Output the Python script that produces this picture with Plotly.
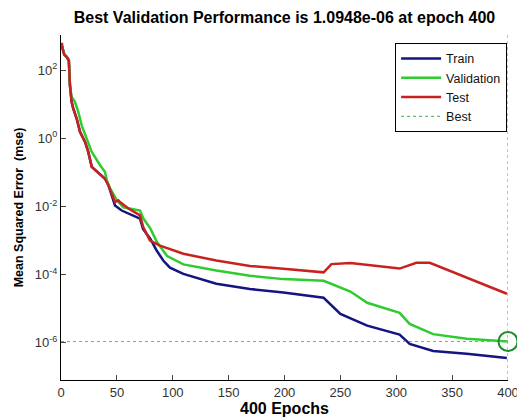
import plotly.graph_objects as go

# ---- data ----
train_epochs = [0, 1, 3, 5, 7, 8, 9.5, 11, 14, 17, 21.5, 24.4, 27.5, 33, 39.4, 42.4, 48.3, 54.3,
                65, 70.7, 73.4, 80, 85.6, 91.5, 97.5, 109.5, 139, 169, 199, 235, 250, 274, 303,
                312, 333, 363, 399]
train_mse = [437, 501, 282, 245, 195, 36.3, 11.7, 7.4, 3.8, 1.55, 0.78, 0.4, 0.145, 0.1, 0.065,
             0.042, 0.0107, 0.0076, 0.0055, 0.0044, 0.0022, 0.00112, 5.1e-4, 2.6e-4, 1.6e-4,
             1.05e-4, 5.4e-5, 3.8e-5, 3.0e-5, 2.1e-5, 7.1e-6, 3.2e-6, 1.74e-6, 9.3e-7, 5.8e-7,
             4.8e-7, 3.6e-7]

val_epochs = [0, 1, 3, 5, 7, 8, 9.5, 12.5, 15.5, 18.5, 23, 27.5, 35, 39.4, 41, 44, 50, 55.7,
              70.7, 73.6, 80, 86, 95, 109.5, 139, 169, 199, 235, 259, 274, 303, 312, 333, 363, 400]
val_mse = [437, 501, 282, 245, 195, 36.3, 16.2, 11.7, 5.9, 2.4, 0.98, 0.4, 0.162, 0.102, 0.0575,
           0.0339, 0.0151, 0.0095, 0.0076, 0.0045, 0.00224, 8.9e-4, 3.5e-4, 2.0e-4, 1.32e-4,
           9.3e-5, 7.4e-5, 6.6e-5, 3.2e-5, 1.5e-5, 7.6e-6, 3.6e-6, 1.8e-6, 1.32e-6, 1.0948e-6]

test_epochs = [0, 0.8, 1.5, 3, 5, 7, 8, 9.5, 11, 14, 17, 21.5, 24.4, 27.5, 33, 39.4, 42.4, 48.3,
               51.3, 52.8, 60, 70.7, 73.6, 79.6, 88.6, 109.5, 139, 169, 199, 235, 242, 259, 303,
               318, 330, 399]
test_mse = [437, 630, 400, 282, 245, 195, 36.3, 11.7, 7.4, 3.8, 1.55, 0.78, 0.4, 0.145, 0.1,
            0.065, 0.042, 0.0135, 0.0151, 0.0135, 0.0089, 0.0055, 0.0025, 0.001, 7.1e-4, 4.1e-4,
            2.6e-4, 1.8e-4, 1.48e-4, 1.17e-4, 2.04e-4, 2.2e-4, 1.51e-4, 2.24e-4, 2.24e-4, 2.75e-5]

best_epoch = 400
best_perf = 1.0948e-6

x_ticks = [0, 50, 100, 150, 200, 250, 300, 350, 400]
y_tick_vals = [1e2, 1e0, 1e-2, 1e-4, 1e-6]
y_tick_text = ["10<sup>2</sup>", "10<sup>0</sup>", "10<sup>-2</sup>", "10<sup>-4</sup>", "10<sup>-6</sup>"]

FONT = "Liberation Sans, Arial, sans-serif"

fig = go.Figure()
fig.add_trace(go.Scatter(x=train_epochs, y=train_mse, mode="lines", name="Train",
                         line=dict(color="#141482", width=2.5)))
fig.add_trace(go.Scatter(x=val_epochs, y=val_mse, mode="lines", name="Validation",
                         line=dict(color="#2ecc2e", width=2.5)))
fig.add_trace(go.Scatter(x=test_epochs, y=test_mse, mode="lines", name="Test",
                         line=dict(color="#c8221e", width=2.5)))
fig.add_trace(go.Scatter(x=[0, best_epoch], y=[best_perf, best_perf], mode="lines", name="Best",
                         line=dict(color="#66b87a", width=1.2, dash="dot")))
fig.add_trace(go.Scatter(x=[best_epoch], y=[best_perf], mode="markers", showlegend=False,
                         cliponaxis=False,
                         marker=dict(symbol="circle-open", size=19, color="#1f8a2a",
                                     line=dict(width=2, color="#1f8a2a"))))

fig.add_shape(type="line", xref="x", yref="paper", x0=best_epoch, x1=best_epoch, y0=0, y1=1,
              line=dict(color="#66b87a", width=1.2, dash="dot"))

fig.update_layout(
    width=517, height=419,
    margin=dict(l=61, r=9, t=35, b=39, autoexpand=False),
    paper_bgcolor="white", plot_bgcolor="white",
    font=dict(family=FONT, size=12, color="#222"),
    title=dict(text="<b>Best Validation Performance is 1.0948e-06 at epoch 400</b>",
               x=0.5, xref="paper", xanchor="center",
               y=1 - 17 / 419, yref="container", yanchor="middle",
               font=dict(family=FONT, size=16, color="black")),
    showlegend=True,
    legend=dict(x=0.998, y=0.977, xanchor="right", yanchor="top",
                bgcolor="white", bordercolor="black", borderwidth=1,
                font=dict(family=FONT, size=12.5, color="#111"),
                tracegroupgap=0, itemwidth=40),
)

fig.update_xaxes(range=[0, 400], tickvals=x_ticks, ticks="inside", ticklen=5,
                 showline=True, linecolor="black", linewidth=1, mirror=False,
                 showgrid=False, zeroline=False, ticklabeloverflow="allow", automargin=False,
                 tickfont=dict(size=13, color="#333"),
                 title=dict(text="<b>400 Epochs</b>", font=dict(size=16, color="black"), standoff=2))
fig.update_yaxes(type="log", range=[-7.09, 3.03], tickvals=y_tick_vals, ticktext=y_tick_text,
                 ticks="inside", ticklen=5, automargin=False,
                 showline=True, linecolor="black", linewidth=1, mirror=False,
                 showgrid=False, zeroline=False,
                 tickfont=dict(size=13, color="#333"),
                 title=dict(text="<b>Mean Squared Error  (mse)</b>", font=dict(size=12.5, color="black"),
                            standoff=8))

fig.write_html("out.html")
